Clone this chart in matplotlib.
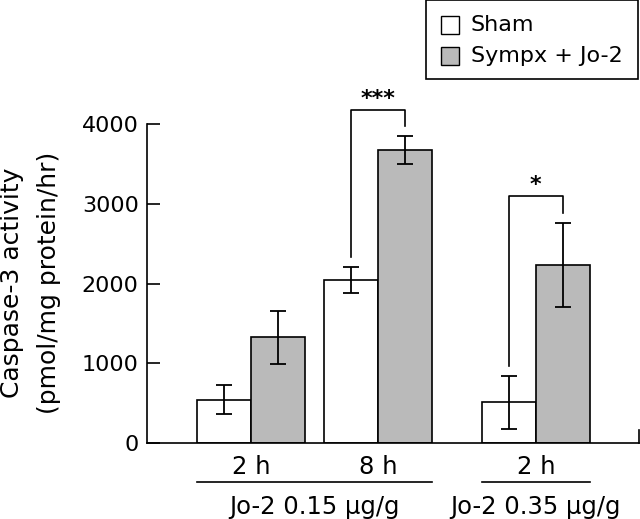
import numpy as np
import matplotlib
matplotlib.use("Agg")
import matplotlib.pyplot as plt
from matplotlib.patches import Rectangle

# data
time_labels = ["2 h", "8 h", "2 h"]
dose_labels = ["Jo-2 0.15 \u00b5g/g", "Jo-2 0.35 \u00b5g/g"]
dose_groups = [[0, 1], [2]]
series_names = ["Sham", "Sympx + Jo-2"]
sham = [545, 2044, 510]
sham_err = [183, 160, 335]
sympx = [1325, 3674, 2232]
sympx_err = [334, 170, 530]
sig_groups = [1, 2]
sig_marks = ["***", "*"]

# layout
W, H = 640, 519
group_pos = np.array([1.93, 4.28, 7.2])
bar_w = 1.0
x_max = 9.11
gray = "#bababa"
fs_tick = 16
fs_lab = 17.5

plt.rcParams["font.family"] = ["DejaVu Sans"]
fig = plt.figure(figsize=(W / 100, H / 100), dpi=100)
ax = fig.add_axes([147 / W, 76 / H, 492 / W, 319 / H])

x_sham = group_pos - bar_w / 2
x_symp = group_pos + bar_w / 2
err_kw = dict(ecolor="black", elinewidth=1.3, capsize=5.8, capthick=1.3)
ax.bar(x_sham, sham, width=bar_w, color="white", edgecolor="black", linewidth=1.2,
       yerr=sham_err, error_kw=err_kw, zorder=2)
ax.bar(x_symp, sympx, width=bar_w, color=gray, edgecolor="black", linewidth=1.2,
       yerr=sympx_err, error_kw=err_kw, zorder=2)

ax.set_xlim(0, x_max)
ax.set_ylim(0, 4000)
ax.set_yticks([0, 1000, 2000, 3000, 4000])
ax.tick_params(axis="y", direction="in", length=9.5, width=1.2, labelsize=fs_tick, pad=6)
ax.set_xticks([])
for s in ["top", "right"]:
    ax.spines[s].set_visible(False)
for s in ["left", "bottom"]:
    ax.spines[s].set_linewidth(1.2)
# small upturn at right end of x axis
ax.plot([x_max, x_max], [0, 160], color="black", lw=1.2, clip_on=False)

# significance brackets
gap = 125
rise = 335
for g, mark in zip(sig_groups, sig_marks):
    left_top = sham[g] + sham_err[g]
    right_top = sympx[g] + sympx_err[g]
    top = max(left_top, right_top) + rise
    ax.plot([x_sham[g], x_sham[g], x_symp[g], x_symp[g]],
            [left_top + gap, top, top, right_top + gap],
            color="black", lw=1.2, clip_on=False)
    ax.text(group_pos[g], top + 140, mark, ha="center", va="center",
            fontsize=16, fontweight="bold", clip_on=False)

# x group labels
trans = ax.get_xaxis_transform()
for i, lab in enumerate(time_labels):
    ax.text(group_pos[i], -0.074, lab, transform=trans, ha="center", va="center",
            fontsize=fs_lab)
for members, lab in zip(dose_groups, dose_labels):
    x0 = x_sham[members[0]] - bar_w / 2
    x1 = x_symp[members[-1]] + bar_w / 2
    ax.plot([x0, x1], [-0.122, -0.122], transform=trans, color="black", lw=1.2,
            clip_on=False)
    ax.text((x0 + x1) / 2, -0.2, lab, transform=trans, ha="center", va="center",
            fontsize=fs_lab)

# y label as two lines
fig.text(12 / W, 1 - 283 / H, "Caspase-3 activity", rotation=90, ha="center",
         va="center", fontsize=18)
fig.text(49 / W, 1 - 283 / H, "(pmol/mg protein/hr)", rotation=90, ha="center",
         va="center", fontsize=18)

# legend box
fig.patches.append(Rectangle((426 / W, 1 - 79 / H), 212 / W, 79 / H, transform=fig.transFigure,
                             facecolor="white", edgecolor="black", lw=1.2))
for k, (name, fc) in enumerate(zip(series_names, ["white", gray])):
    yc = [25, 56][k]
    fig.patches.append(Rectangle((441 / W, 1 - (yc + 9) / H), 18 / W, 18 / H,
                                 transform=fig.transFigure, facecolor=fc,
                                 edgecolor="black", lw=1.0))
    fig.text(471 / W, 1 - yc / H, name, ha="left", va="center", fontsize=16)

fig.savefig("out.png", dpi=100)
